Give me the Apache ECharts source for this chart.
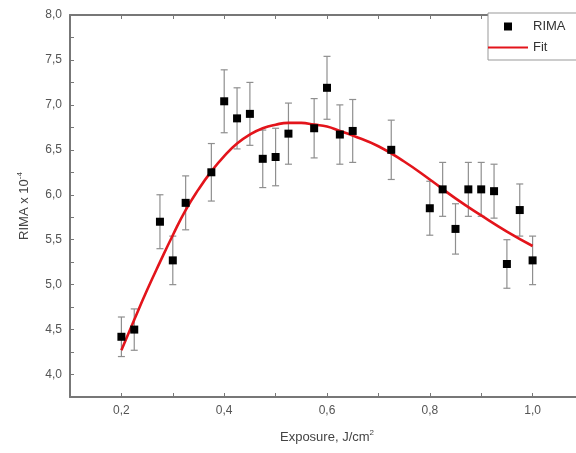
<!DOCTYPE html>
<html>
<head>
<meta charset="utf-8">
<script src="https://cdn.jsdelivr.net/npm/echarts@6/dist/echarts.min.js"></script>
<style>
html,body{margin:0;padding:0;background:#fff;}
#c{width:576px;height:453px;}
</style>
</head>
<body>
<div id="c"></div>
<script>
// Measured points (exposure, RIMA x 1e-4, error)
var exposure = [0.2,0.225,0.275,0.3,0.325,0.375,0.4,0.425,0.45,0.475,0.5,0.525,0.575,0.6,0.625,0.65,0.725,0.8,0.825,0.85,0.875,0.9,0.925,0.95,0.975,1.0];
var rima = [4.42,4.50,5.70,5.27,5.91,6.25,7.04,6.85,6.90,6.40,6.42,6.68,6.74,7.19,6.67,6.71,6.50,5.85,6.06,5.62,6.06,6.06,6.04,5.23,5.83,5.27];
var rimaErr = [0.22,0.23,0.30,0.27,0.30,0.32,0.35,0.34,0.35,0.32,0.32,0.34,0.33,0.35,0.33,0.35,0.33,0.30,0.30,0.28,0.30,0.30,0.30,0.27,0.29,0.27];
// Fit curve
var fitX = [0.2,0.225,0.25,0.275,0.3,0.325,0.35,0.375,0.4,0.425,0.45,0.475,0.5,0.525,0.55,0.575,0.6,0.625,0.65,0.7,0.75,0.8,0.85,0.9,0.95,1.0];
var fitY = [4.27,4.61,4.94,5.25,5.55,5.83,6.06,6.26,6.43,6.57,6.67,6.74,6.78,6.80,6.80,6.78,6.76,6.71,6.66,6.54,6.37,6.17,5.96,5.77,5.59,5.43];
var xTicks = [0.2,0.4,0.6,0.8,1.0];
var yTicks = [4.0,4.5,5.0,5.5,6.0,6.5,7.0,7.5,8.0];

var pts = exposure.map(function(x,i){return [x, rima[i]];});
var errData = exposure.map(function(x,i){return [x, rima[i]-rimaErr[i], rima[i]+rimaErr[i]];});
var fitData = fitX.map(function(x,i){return [x, fitY[i]];});

function fmtComma(v){ return v.toFixed(1).replace('.', ','); }
function inList(list, v){ for (var i=0;i<list.length;i++){ if (Math.abs(list[i]-v)<1e-6) return true;} return false; }

var axisColor = '#777';
var labelColor = '#555';
var chart = echarts.init(document.getElementById('c'));
chart.setOption({
  animation: false,
  backgroundColor: '#fff',
  textStyle: {fontFamily: 'Liberation Sans, Arial, sans-serif'},
  grid: {left: 70, top: 15, right: -8, bottom: 56, containLabel: false, outerBoundsMode: 'none'},
  legend: {
    orient: 'vertical',
    left: 488, top: 13,
    padding: [7, 60, 6, 0],
    itemWidth: 40, itemHeight: 8, itemGap: 8,
    borderColor: '#999', borderWidth: 1, backgroundColor: '#fff',
    textStyle: {color: '#333', fontSize: 13, fontFamily: 'Liberation Sans, Arial, sans-serif'},
    data: [
      {name: 'RIMA', icon: 'path://M0,0H1V1H0Z'},
      {name: 'Fit', icon: 'path://M0,0H40V2H0Z'}
    ]
  },
  xAxis: [{
    type: 'value', min: 0.1, max: 1.1, interval: 0.1,
    name: 'Exposure, J/cm{sup|2}', nameLocation: 'middle', nameGap: 32,
    nameTextStyle: {color: '#444', fontSize: 13, rich: {sup: {fontSize: 8, verticalAlign: 'top', padding: [0,0,8,0], color: '#444'}}},
    axisLine: {lineStyle: {color: axisColor, width: 2}},
    axisTick: {inside: true, length: 4, lineStyle: {color: axisColor, width: 1}},
    axisLabel: {color: labelColor, fontSize: 12, margin: 8,
      formatter: function(v){ return inList(xTicks, v) ? fmtComma(v) : ''; }},
    splitLine: {show: false}
  },{
    type: 'value', min: 0.1, max: 1.1, interval: 0.1, position: 'top',
    axisLine: {lineStyle: {color: axisColor, width: 2}},
    axisTick: {inside: true, length: 4, lineStyle: {color: axisColor, width: 1}},
    axisLabel: {show: false},
    splitLine: {show: false}
  }],
  yAxis: {
    type: 'value', min: 3.75, max: 8.0, interval: 0.25,
    name: 'RIMA x 10{sup|-4}', nameLocation: 'middle', nameGap: 38,
    nameTextStyle: {color: '#444', fontSize: 13, rich: {sup: {fontSize: 8, verticalAlign: 'top', padding: [0,0,8,0], color: '#444'}}},
    axisLine: {lineStyle: {color: axisColor, width: 2}},
    axisTick: {inside: true, length: 4, lineStyle: {color: axisColor, width: 1}},
    axisLabel: {color: labelColor, fontSize: 12, margin: 8,
      formatter: function(v){ return inList(yTicks, v) ? fmtComma(v) : ''; }},
    splitLine: {show: false}
  },
  series: [
    {
      name: 'RIMA-err', type: 'custom', xAxisIndex: 0,
      data: errData, silent: true, z: 1,
      renderItem: function(params, api){
        var lo = api.coord([api.value(0), api.value(1)]);
        var hi = api.coord([api.value(0), api.value(2)]);
        var w = 3.5;
        var st = {stroke: '#8f8f8f', lineWidth: 1.2};
        return {type: 'group', children: [
          {type: 'line', shape: {x1: lo[0], y1: lo[1], x2: hi[0], y2: hi[1]}, style: st},
          {type: 'line', shape: {x1: lo[0]-w, y1: lo[1], x2: lo[0]+w, y2: lo[1]}, style: st},
          {type: 'line', shape: {x1: hi[0]-w, y1: hi[1], x2: hi[0]+w, y2: hi[1]}, style: st}
        ]};
      }
    },
    {
      name: 'RIMA', type: 'scatter', xAxisIndex: 0, data: pts,
      symbol: 'rect', symbolSize: 8, z: 3,
      itemStyle: {color: '#000', opacity: 1}
    },
    {
      name: 'Fit', type: 'line', xAxisIndex: 0, data: fitData,
      smooth: true, showSymbol: false, symbol: 'none', z: 2,
      lineStyle: {color: '#e3141b', width: 2.6},
      itemStyle: {color: '#e3141b'}
    }
  ]
});
</script>
</body>
</html>
